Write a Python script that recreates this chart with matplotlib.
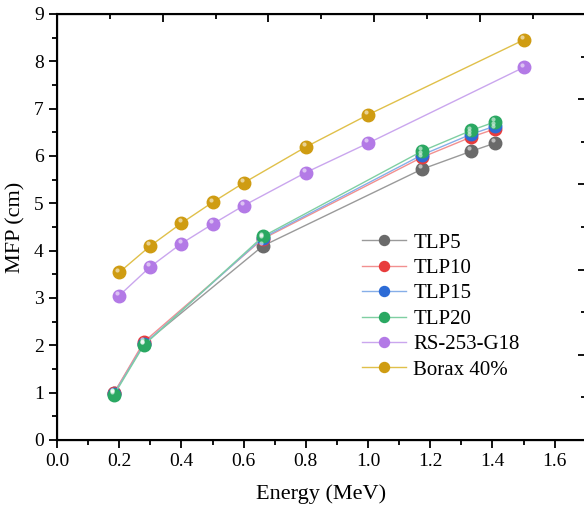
import matplotlib.pyplot as plt
import numpy as np

plt.rcParams['font.family'] = ['Liberation Serif', 'DejaVu Serif']

# gamma energies (MeV) for the TLP samples
energy_tlp = [0.184, 0.279, 0.662, 1.173, 1.332, 1.408]
mfp_tlp5 = [1.00, 2.03, 4.10, 5.72, 6.10, 6.27]
mfp_tlp10 = [1.00, 2.07, 4.25, 5.97, 6.40, 6.57]
mfp_tlp15 = [0.98, 2.02, 4.27, 6.02, 6.46, 6.63]
mfp_tlp20 = [0.96, 2.00, 4.30, 6.10, 6.54, 6.72]

# reference materials
energy_ref = [0.2, 0.3, 0.4, 0.5, 0.6, 0.8, 1.0, 1.5]
mfp_rs = [3.05, 3.66, 4.15, 4.56, 4.95, 5.65, 6.27, 7.87]
mfp_borax = [3.54, 4.10, 4.58, 5.02, 5.43, 6.19, 6.87, 8.45]

labels = ['TLP5', 'TLP10', 'TLP15', 'TLP20', 'RS-253-G18', 'Borax 40%']

fig = plt.figure(figsize=(5.84, 5.09), dpi=100)
ax = fig.add_axes([0.0976, 0.1356, 0.9054, 0.837])

series = [
    (energy_tlp, mfp_tlp5, '#6a6a6a', '#9a9a9a'),
    (energy_tlp, mfp_tlp10, '#e83c3c', '#f29090'),
    (energy_tlp, mfp_tlp15, '#2d6bd6', '#86aee8'),
    (energy_tlp, mfp_tlp20, '#2aa862', '#7fcfa2'),
    (energy_ref, mfp_rs, '#b37ae6', '#caa6ee'),
    (energy_ref, mfp_borax, '#cf9c12', '#e0c04a'),
]

for (x, y, mc, lc), lab in zip(series, labels):
    ax.plot(x, y, '-', color=lc, lw=1.0, marker='o', ms=9,
            mfc=mc, mec=mc, label=lab, zorder=3)
    # little highlight to mimic the shaded spheres
    ax.plot(np.array(x) - 0.006, np.array(y) + 0.06, 'o', ms=3,
            color='white', alpha=0.55, mec='none', zorder=4)

ax.set_xlim(0, 1.7)
ax.set_ylim(0, 9)
ax.set_xticks(np.arange(0, 1.61, 0.2))
ax.set_xticks(np.arange(0.1, 1.71, 0.2), minor=True)
ax.set_yticks(range(0, 10))
ax.set_yticks(np.arange(0.5, 9, 1), minor=True)
ax.tick_params(which='both', direction='out', width=1.3, labelsize=14)
ax.tick_params(which='major', length=6)
ax.tick_params(which='minor', length=3.5)
ax.set_xlabel('Energy (MeV)', fontsize=16, labelpad=10)
ax.set_ylabel('MFP (cm)', fontsize=16, labelpad=6)
for s in ax.spines.values():
    s.set_linewidth(1.5)

# mirrored frame axes with their own (unlabelled) scale
axt = ax.twiny()
axt.set_xlim(0, 5)
axt.set_xticks(range(0, 6))
axt.set_xticks(np.arange(0.5, 5, 1), minor=True)
axt.tick_params(which='both', direction='in', width=1.3, labeltop=False)
axt.tick_params(which='major', length=6)
axt.tick_params(which='minor', length=3.5)
axr = ax.twinx()
axr.set_ylim(0, 5)
axr.set_yticks(range(0, 6))
axr.set_yticks(np.arange(0.5, 5, 1), minor=True)
axr.tick_params(which='both', direction='in', width=1.3, labelright=False)
axr.tick_params(which='major', length=6)
axr.tick_params(which='minor', length=3.5)

ax.legend(loc='upper left', bbox_to_anchor=(0.55, 0.52), frameon=False,
          fontsize=15, handlelength=2.1, handletextpad=0.35,
          labelspacing=0.28, borderpad=0.2, markerscale=0.8)

fig.savefig('out.png', dpi=100)
